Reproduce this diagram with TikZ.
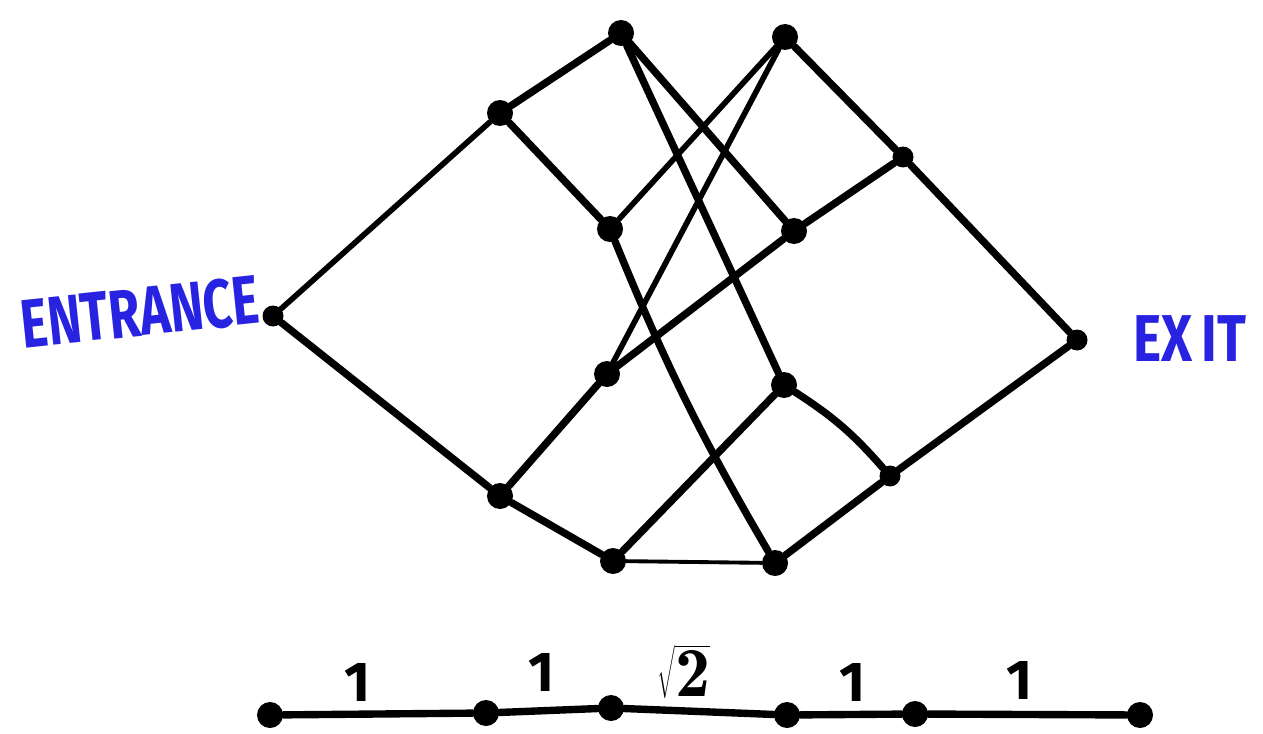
\documentclass[tikz,border=0pt]{standalone}
\usepackage{fontspec}
\setsansfont{Fira Sans}
\definecolor{entblue}{RGB}{40,35,225}
\begin{document}
\begin{tikzpicture}[x=0.02cm,y=-0.02cm,
  dot/.style={circle,fill=black,inner sep=0pt,minimum size=0.52cm},
  sdot/.style={circle,fill=black,inner sep=0pt,minimum size=0.42cm},
  edge/.style={line width=4.2pt,line cap=round},
  medge/.style={line width=3.2pt,line cap=round},
  tedge/.style={line width=2.2pt,line cap=round},
  lbl/.style={text=entblue,font=\sffamily\bfseries\fontsize{29}{29}\selectfont},
  num/.style={font=\sffamily\bfseries\fontsize{32}{32}\selectfont}]
\useasboundingbox (0,0) rectangle (1263,733);
% graph nodes
\node[sdot] (E)  at (273,316) {};
\node[dot]  (A1) at (500,113) {};
\node[dot]  (T1) at (621,33) {};
\node[dot]  (T2) at (785,37) {};
\node[sdot] (B1) at (903,157) {};
\node[sdot] (X)  at (1077,340) {};
\node[dot]  (M1) at (610,229) {};
\node[dot]  (M2) at (794,231) {};
\node[dot]  (M3) at (607,374) {};
\node[dot]  (M4) at (784,385) {};
\node[dot]  (L1) at (500,496) {};
\node[dot]  (L2) at (613,561) {};
\node[dot]  (L3) at (775,563) {};
\node[sdot] (R1) at (890,476) {};
% edges
\draw[medge] (E) -- (A1);
\draw[edge] (E) -- (L1);
\draw[edge] (A1) -- (T1);
\draw[edge] (A1) -- (M1);
\draw[edge] (T1) -- (M2);
\draw[edge] (T1) -- (M4);
\draw[medge] (T2) -- (M1);
\draw[medge] (T2) -- (M3);
\draw[edge] (T2) -- (B1);
\draw[edge] (B1) -- (M2);
\draw[edge] (B1) -- (X);
\draw[edge] (M1) to[bend right=4] (L3);
\draw[edge] (M2) -- (M3);
\draw[edge] (M3) -- (L1);
\draw[edge] (M4) -- (L2);
\draw[edge] (M4) to[bend left=8] (R1);
\draw[edge] (L1) -- (L2);
\draw[tedge] (L2) -- (L3);
\draw[edge] (L3) -- (R1);
\draw[edge] (R1) -- (X);
% labels
\node[lbl,rotate=6] (ent) at (140,312) {\scalebox{1}[1.35]{ENTRANCE}};
\node[lbl] (ext) at (1190,339) {\scalebox{1.05}[1.3]{EX\,IT}};
% bottom path
\node[dot] (P1) at (270,715) {};
\node[dot] (P2) at (486,713) {};
\node[dot] (P3) at (611,708) {};
\node[dot] (P4) at (787,715) {};
\node[dot] (P5) at (915,714) {};
\node[dot] (P6) at (1140,715) {};
\draw[edge] (P1) -- (P2);
\draw[edge] (P2) -- (P3);
\draw[edge] (P3) -- (P4);
\draw[edge] (P4) -- (P5);
\draw[edge] (P5) -- (P6);
\node[num] (n1) at (358,682) {1};
\node[num] (n2) at (542,672) {1};
\node[font=\fontsize{40}{40}\selectfont] (n3) at (684,672) {$\sqrt{\mathbf{2}}$};
\node[num] (n4) at (853,682) {1};
\node[num] (n5) at (1020,680) {1};
\end{tikzpicture}
\end{document}
